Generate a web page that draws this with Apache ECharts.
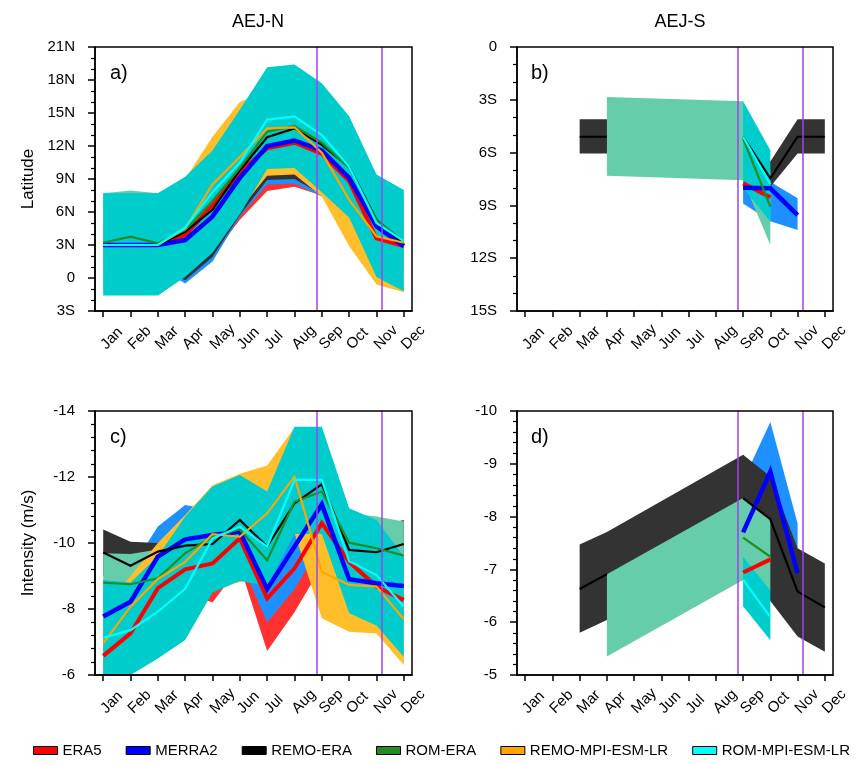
<!DOCTYPE html>
<html>
<head>
<meta charset="utf-8">
<script src="https://cdn.jsdelivr.net/npm/echarts@6/dist/echarts.min.js"></script>
<style>
html, body { margin: 0; padding: 0; background: #ffffff; }
#chart { width: 857px; height: 764px; }
</style>
</head>
<body>
<div id="chart"></div>
<script>
// Month axis and model list
const months = ['Jan', 'Feb', 'Mar', 'Apr', 'May', 'Jun', 'Jul', 'Aug', 'Sep', 'Oct', 'Nov', 'Dec'];
const modelNames = ['ERA5', 'MERRA2', 'REMO-ERA', 'ROM-ERA', 'REMO-MPI-ESM-LR', 'ROM-MPI-ESM-LR'];
const lineColors = ['#ff0000', '#0000ff', '#000000', '#228b22', '#ffa500', '#00ffff'];
const bandColors = ['#ff3030', '#1e90ff', '#333333', '#66cdaa', '#ffbe2a', '#00cccc'];
const lineWidths = [4, 4.5, 2.2, 2.2, 2.2, 2.2];
const dividers = [8.8, 11.2];
const _ = null;

// a) AEJ-N latitude (positive = N)
const aERA5 = [3.0, 3.0, 3.0, 3.9, 6.6, 9.6, 11.8, 12.3, 11.3, 8.8, 3.6, 2.9];
const aERA5Lo = [1.5, 1.5, 1.5, 0.0, 2.0, 5.3, 7.9, 8.3, 7.5, 5.5, 1.5, 1.0];
const aERA5Hi = [4.5, 4.5, 4.5, 5.5, 8.5, 12.0, 14.0, 14.2, 13.5, 11.0, 6.0, 4.5];
const aMERRA2 = [3.0, 3.0, 3.0, 3.45, 5.6, 9.1, 12.0, 12.5, 11.6, 9.1, 4.7, 2.9];
const aMERRA2Lo = [1.0, 1.0, 1.0, -0.5, 1.5, 5.6, 8.5, 8.6, 7.4, 5.5, 1.5, 1.0];
const aMERRA2Hi = [4.5, 4.5, 4.5, 6.0, 8.0, 11.5, 14.0, 14.5, 13.5, 11.5, 7.0, 4.5];
const aREMOERA = [3.0, 3.0, 3.0, 4.2, 6.2, 9.8, 12.8, 13.6, 12.1, 10.1, 5.3, 3.1];
const aREMOERALo = [1.0, 1.0, 1.0, -0.2, 1.9, 5.7, 8.9, 9.0, 7.6, 5.5, 1.5, 1.0];
const aREMOERAHi = [5.0, 5.0, 5.0, 6.5, 9.0, 13.0, 16.0, 16.5, 15.0, 13.0, 8.0, 5.0];
const aROMERA = [3.2, 3.75, 3.15, 4.35, 7.0, 10.0, 13.3, 13.8, 12.3, 10.0, 5.3, 3.3];
const aROMERALo = [-1.0, -1.0, -1.0, 0.5, 3.0, 6.5, 10.2, 10.4, 8.5, 6.0, 1.0, -0.5];
const aROMERAHi = [7.7, 7.95, 7.7, 9.0, 11.0, 14.5, 17.0, 17.5, 16.0, 13.5, 8.5, 7.5];
const aREMOMPI = [3.0, 3.0, 3.0, 4.5, 8.5, 11.0, 13.6, 13.7, 11.4, 7.1, 3.8, 3.2];
const aREMOMPILo = [0.0, 0.0, 0.0, 1.0, 3.0, 6.2, 9.3, 9.4, 7.4, 2.9, -0.6, -1.3];
const aREMOMPIHi = [6.0, 6.0, 6.0, 9.0, 12.85, 16.0, 17.0, 18.0, 16.0, 12.0, 7.0, 5.0];
const aROMMPI = [3.0, 3.0, 3.0, 4.6, 7.8, 10.5, 14.4, 14.7, 13.0, 10.1, 5.0, 3.35];
const aROMMPILo = [-1.6, -1.6, -1.6, 0.1, 2.3, 5.8, 9.9, 10.0, 7.8, 5.5, 0.1, -1.2];
const aROMMPIHi = [7.7, 7.7, 7.7, 9.2, 11.6, 15.3, 19.15, 19.4, 17.7, 14.7, 9.4, 8.0];

// b) AEJ-S latitude (negative = S); null = no jet found
const bERA5 = [_, _, _, _, _, _, _, _, -7.75, -8.54, _, _];
const bERA5Lo = [_, _, _, _, _, _, _, _, -7.95, -8.75, _, _];
const bERA5Hi = [_, _, _, _, _, _, _, _, -7.6, -8.3, _, _];
const bMERRA2 = [_, _, _, _, _, _, _, _, -8.0, -8.03, -9.55, _];
const bMERRA2Lo = [_, _, _, _, _, _, _, _, -8.89, -9.9, -10.4, _];
const bMERRA2Hi = [_, _, _, _, _, _, _, _, -7.94, -7.65, -8.6, _];
const bREMOERA = [_, _, -5.1, -5.1, _, _, _, _, -5.1, -7.46, -5.1, -5.1];
const bREMOERALo = [_, _, -6.05, -6.05, _, _, _, _, -6.05, -7.94, -6.05, -6.05];
const bREMOERAHi = [_, _, -4.1, -4.1, _, _, _, _, -4.1, -6.5, -4.1, -4.1];
const bROMERA = [_, _, _, _, _, _, _, _, -5.19, -9.07, _, _];
const bROMERALo = [_, _, _, -7.32, _, _, _, _, -7.57, -11.25, _, _];
const bROMERAHi = [_, _, _, -2.84, _, _, _, _, -3.08, -7.0, _, _];
const bREMOMPI = [_, _, _, _, _, _, _, _, _, _, _, _];
const bREMOMPILo = [_, _, _, _, _, _, _, _, _, _, _, _];
const bREMOMPIHi = [_, _, _, _, _, _, _, _, _, _, _, _];
const bROMMPI = [_, _, _, _, _, _, _, _, -5.1, -7.8, _, _];
const bROMMPILo = [_, _, _, _, _, _, _, _, -8.0, -9.93, _, _];
const bROMMPIHi = [_, _, _, _, _, _, _, _, -3.08, -5.86, _, _];

// c) AEJ-N intensity (m/s)
const cERA5 = [-6.58, -7.26, -8.63, -9.2, -9.38, -10.14, -8.32, -9.23, -10.6, -9.43, -8.68, -8.27];
const cERA5Lo = [-5.8, -6.5, -8.0, -8.5, -8.2, -9.3, -6.73, -7.9, -9.3, -8.6, -8.0, -7.6];
const cERA5Hi = [-7.5, -8.2, -9.4, -10.0, -10.2, -10.9, -9.2, -10.2, -11.3, -10.3, -9.5, -9.0];
const cMERRA2 = [-7.77, -8.22, -9.59, -10.11, -10.24, -10.34, -8.61, -9.89, -11.17, -8.9, -8.78, -8.7];
const cMERRA2Lo = [-7.0, -7.4, -8.8, -9.3, -9.4, -9.5, -7.6, -8.6, -10.0, -8.2, -8.0, -8.0];
const cMERRA2Hi = [-8.6, -9.2, -10.5, -11.15, -11.0, -11.2, -9.6, -10.8, -12.0, -9.8, -9.6, -9.5];
const cREMOERA = [-9.71, -9.31, -9.74, -9.92, -9.97, -10.7, -9.89, -11.2, -11.78, -9.79, -9.72, -9.97];
const cREMOERALo = [-9.0, -8.8, -9.2, -9.3, -9.3, -10.0, -9.2, -10.5, -11.0, -9.2, -9.1, -9.3];
const cREMOERAHi = [-10.41, -10.04, -10.0, -10.6, -11.0, -11.5, -10.6, -12.0, -12.5, -10.5, -10.5, -10.7];
const cROMERA = [-8.8, -8.75, -8.93, -9.69, -10.19, -10.41, -9.48, -11.25, -11.56, -10.01, -9.84, -9.62];
const cROMERALo = [-8.0, -8.0, -8.2, -9.0, -9.5, -9.8, -8.9, -10.5, -10.8, -9.3, -9.1, -9.0];
const cROMERAHi = [-9.69, -9.67, -9.8, -10.3, -10.9, -11.1, -10.2, -12.0, -12.4, -10.9, -10.8, -10.65];
const cREMOMPI = [-6.96, -8.07, -8.91, -9.43, -10.27, -10.19, -10.9, -12.01, -9.13, -8.73, -8.68, -7.69];
const cREMOMPILo = [-6.0, -7.0, -7.6, -8.3, -8.8, -8.8, -9.3, -10.3, -7.72, -7.31, -7.26, -6.3];
const cREMOMPIHi = [-8.0, -9.0, -10.0, -10.85, -11.75, -12.1, -12.35, -13.5, -12.0, -10.5, -10.0, -9.0];
const cROMMPI = [-7.13, -7.36, -7.92, -8.61, -10.14, -10.49, -9.89, -11.91, -11.91, -9.45, -9.03, -8.07];
const cROMMPILo = [-5.7, -6.0, -6.5, -7.06, -8.5, -8.85, -8.7, -10.27, -10.27, -7.87, -7.5, -6.55];
const cROMMPIHi = [-8.88, -8.8, -9.6, -10.8, -11.71, -12.06, -11.56, -13.52, -13.52, -11.05, -10.7, -9.59];

// d) AEJ-S intensity (m/s)
const dERA5 = [_, _, _, _, _, _, _, _, -6.94, -7.19, _, _];
const dERA5Lo = [_, _, _, _, _, _, _, _, -6.8, -7.05, _, _];
const dERA5Hi = [_, _, _, _, _, _, _, _, -7.1, -7.35, _, _];
const dMERRA2 = [_, _, _, _, _, _, _, _, -7.7, -8.85, -6.93, _];
const dMERRA2Lo = [_, _, _, _, _, _, _, _, -7.4, -7.0, -6.4, _];
const dMERRA2Hi = [_, _, _, _, _, _, _, _, -8.68, -9.79, -7.87, _];
const dREMOERA = [_, _, -6.63, -6.91, _, _, _, _, -8.35, -7.95, -6.58, -6.28];
const dREMOERALo = [_, _, -5.8, -6.04, _, _, _, _, -7.3, -6.4, -5.73, -5.44];
const dREMOERAHi = [_, _, -7.47, -7.71, _, _, _, _, -9.17, -8.76, -7.4, -7.11];
const dROMERA = [_, _, _, _, _, _, _, _, -7.6, -7.24, _, _];
const dROMERALo = [_, _, _, -5.35, _, _, _, _, -6.8, -6.6, _, _];
const dROMERAHi = [_, _, _, -6.91, _, _, _, _, -8.35, -7.94, _, _];
const dREMOMPI = [_, _, _, _, _, _, _, _, _, _, _, _];
const dREMOMPILo = [_, _, _, _, _, _, _, _, _, _, _, _];
const dREMOMPIHi = [_, _, _, _, _, _, _, _, _, _, _, _];
const dROMMPI = [_, _, _, _, _, _, _, _, -6.8, -6.1, _, _];
const dROMMPILo = [_, _, _, _, _, _, _, _, -6.3, -5.66, _, _];
const dROMMPIHi = [_, _, _, _, _, _, _, _, -7.24, -6.6, _, _];

const panels = [
  { lines: [aERA5, aMERRA2, aREMOERA, aROMERA, aREMOMPI, aROMMPI],
    lo: [aERA5Lo, aMERRA2Lo, aREMOERALo, aROMERALo, aREMOMPILo, aROMMPILo],
    hi: [aERA5Hi, aMERRA2Hi, aREMOERAHi, aROMERAHi, aREMOMPIHi, aROMMPIHi] },
  { lines: [bERA5, bMERRA2, bREMOERA, bROMERA, bREMOMPI, bROMMPI],
    lo: [bERA5Lo, bMERRA2Lo, bREMOERALo, bROMERALo, bREMOMPILo, bROMMPILo],
    hi: [bERA5Hi, bMERRA2Hi, bREMOERAHi, bROMERAHi, bREMOMPIHi, bROMMPIHi] },
  { lines: [cERA5, cMERRA2, cREMOERA, cROMERA, cREMOMPI, cROMMPI],
    lo: [cERA5Lo, cMERRA2Lo, cREMOERALo, cROMERALo, cREMOMPILo, cROMMPILo],
    hi: [cERA5Hi, cMERRA2Hi, cREMOERAHi, cROMERAHi, cREMOMPIHi, cROMMPIHi] },
  { lines: [dERA5, dMERRA2, dREMOERA, dROMERA, dREMOMPI, dROMMPI],
    lo: [dERA5Lo, dMERRA2Lo, dREMOERALo, dROMERALo, dREMOMPILo, dROMMPILo],
    hi: [dERA5Hi, dMERRA2Hi, dREMOERAHi, dROMERAHi, dREMOMPIHi, dROMMPIHi] }
];

const FONT = 'Liberation Sans, Arial, Helvetica, sans-serif';
const latLabel = v => (v === 0 ? '0' : (v > 0 ? v + 'N' : (-v) + 'S'));

const grids = [
  { left: 95, top: 47, width: 317, height: 264 },
  { left: 517, top: 47, width: 316, height: 264 },
  { left: 95, top: 411, width: 317, height: 264 },
  { left: 517, top: 411, width: 316, height: 264 }
];
const yCfg = [
  { min: -3, max: 21, interval: 3, minor: 3, inverse: false, fmt: latLabel, name: 'Latitude' },
  { min: -15, max: 0, interval: 3, minor: 3, inverse: false, fmt: latLabel, name: '' },
  { min: -14, max: -6, interval: 2, minor: 5, inverse: true, fmt: v => String(v), name: 'Intensity (m/s)' },
  { min: -10, max: -5, interval: 1, minor: 5, inverse: true, fmt: v => String(v), name: '' }
];
const monthTicks = months.map((m, i) => i + 1);

const axisLineStyle = { color: '#000', width: 1.5 };
const xAxes = [], yAxes = [], series = [];

grids.forEach((g, p) => {
  xAxes.push({
    type: 'value', gridIndex: p, min: 0.7, max: 12.3, z: 10,
    axisLine: { show: true, onZero: false, lineStyle: axisLineStyle },
    axisTick: { show: true, inside: false, length: 6, lineStyle: axisLineStyle, customValues: monthTicks },
    axisLabel: {
      show: true, rotate: 45, margin: 36, fontSize: 15, color: '#000', fontFamily: FONT,
      align: 'left', verticalAlign: 'middle',
      customValues: monthTicks, formatter: v => months[Math.round(v) - 1] || ''
    },
    splitLine: { show: false }
  });
  const y = yCfg[p];
  yAxes.push({
    type: 'value', gridIndex: p, min: y.min, max: y.max, interval: y.interval, inverse: y.inverse, z: 10,
    name: y.name, nameLocation: 'middle', nameGap: 58,
    nameTextStyle: { fontSize: 17, color: '#000', fontFamily: FONT },
    axisLine: { show: true, onZero: false, lineStyle: axisLineStyle },
    axisTick: { show: true, inside: false, length: 7, lineStyle: axisLineStyle },
    minorTick: { show: true, splitNumber: y.minor, length: 4, lineStyle: { color: '#000', width: 1.2 } },
    axisLabel: { margin: 20, fontSize: 15, color: '#000', fontFamily: FONT, formatter: y.fmt },
    splitLine: { show: false }
  });
});

// spread shading: polygon through the non-missing months
function bandSeries(p, lo, hi, color) {
  return {
    type: 'custom', xAxisIndex: p, yAxisIndex: p, z: 2, silent: true,
    data: [0],
    renderItem: (params, api) => {
      const upper = [], lower = [];
      for (let i = 0; i < 12; i++) {
        if (lo[i] == null || hi[i] == null) continue;
        upper.push(api.coord([i + 1, hi[i]]));
        lower.push(api.coord([i + 1, lo[i]]));
      }
      if (upper.length < 2) return null;
      const cs = params.coordSys;
      return {
        type: 'polygon',
        shape: { points: upper.concat(lower.reverse()) },
        style: { fill: color, stroke: null },
        clipPath: { type: 'rect', shape: { x: cs.x, y: cs.y, width: cs.width, height: cs.height } }
      };
    }
  };
}

panels.forEach((pd, p) => {
  for (let k = 0; k < 6; k++) {
    series.push(bandSeries(p, pd.lo[k], pd.hi[k], bandColors[k]));
  }
  series.push({
    type: 'line', xAxisIndex: p, yAxisIndex: p, data: [], z: 3, silent: true,
    markLine: {
      symbol: ['none', 'none'], silent: true, animation: false,
      label: { show: false },
      lineStyle: { color: '#a040f0', width: 1.5, type: 'solid' },
      data: dividers.map(x => ({ xAxis: x }))
    }
  });
  for (let k = 0; k < 6; k++) {
    series.push({
      name: modelNames[k], type: 'line', xAxisIndex: p, yAxisIndex: p, z: 4,
      showSymbol: false, symbol: 'none', connectNulls: false, animation: false,
      color: lineColors[k],
      lineStyle: { color: lineColors[k], width: lineWidths[k], join: 'miter' },
      data: pd.lines[k].map((v, i) => [i + 1, v == null ? '-' : v])
    });
  }
});

const chart = echarts.init(document.getElementById('chart'), null, { renderer: 'canvas' });
chart.setOption({
  animation: false,
  backgroundColor: '#ffffff',
  textStyle: { fontFamily: FONT },
  grid: grids.map(g => Object.assign({ show: true, borderColor: '#000', borderWidth: 1.5, z: 10, containLabel: false }, g)),
  xAxis: xAxes,
  yAxis: yAxes,
  title: [
    { text: 'AEJ-N', left: 253, top: 8, textAlign: 'center', textStyle: { fontSize: 18, fontWeight: 'normal', color: '#000', fontFamily: FONT } },
    { text: 'AEJ-S', left: 675, top: 8, textAlign: 'center', textStyle: { fontSize: 18, fontWeight: 'normal', color: '#000', fontFamily: FONT } }
  ],
  graphic: [
    { type: 'text', left: 110, top: 63, z: 20, style: { text: 'a)', fontSize: 20, fill: '#000', fontFamily: FONT } },
    { type: 'text', left: 531, top: 63, z: 20, style: { text: 'b)', fontSize: 20, fill: '#000', fontFamily: FONT } },
    { type: 'text', left: 110, top: 427, z: 20, style: { text: 'c)', fontSize: 20, fill: '#000', fontFamily: FONT } },
    { type: 'text', left: 531, top: 427, z: 20, style: { text: 'd)', fontSize: 20, fill: '#000', fontFamily: FONT } }
  ],
  legend: {
    data: modelNames, bottom: 1, left: 28, icon: 'rect',
    itemWidth: 24, itemHeight: 8, itemGap: 24,
    itemStyle: { borderColor: '#000', borderWidth: 1 },
    textStyle: { fontSize: 15, color: '#000', fontFamily: FONT }
  },
  series: series
});
</script>
</body>
</html>
